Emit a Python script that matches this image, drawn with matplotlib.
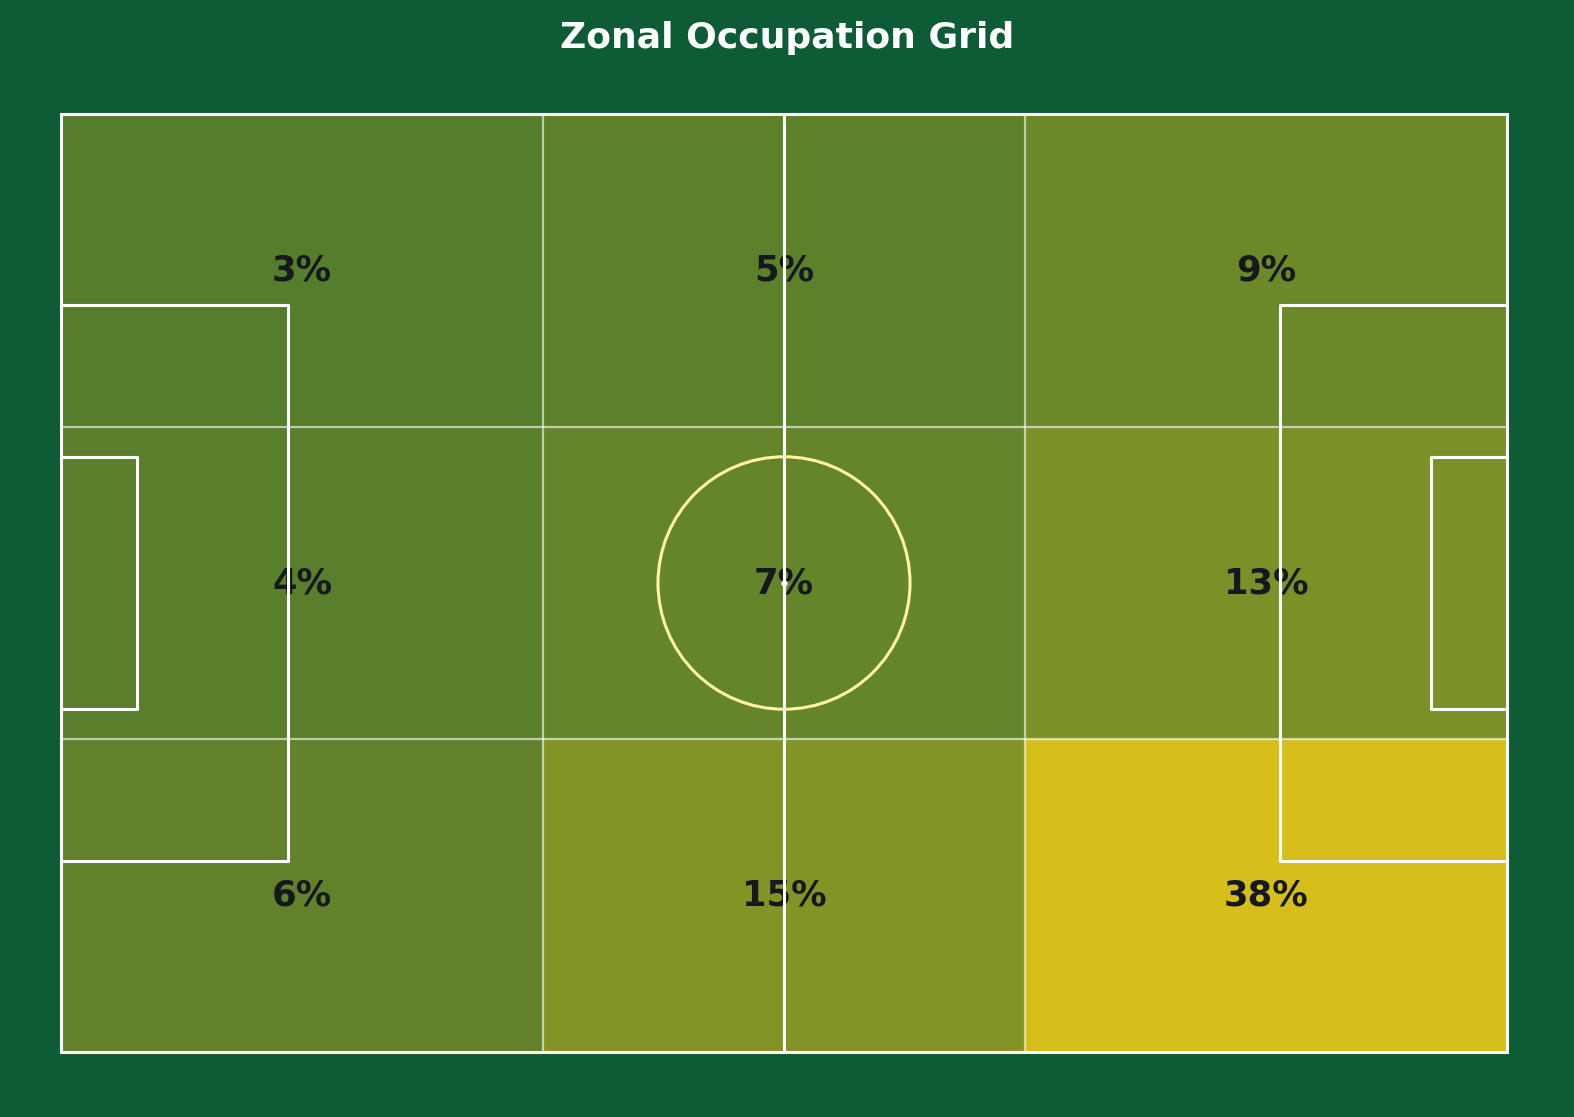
import numpy as np
import matplotlib.pyplot as plt
from matplotlib.colors import LinearSegmentedColormap
from matplotlib.patches import Rectangle, Circle

# zone shares in percent, row 0 = top of the picture
zone_top = [3, 5, 9]
zone_mid = [4, 7, 13]
zone_bot = [6, 15, 38]

pitch_len = 105
pitch_wid = 68

bg = "#0e5c36"
line_col = "white"

zones = np.array([zone_top, zone_mid, zone_bot])

fig = plt.figure(figsize=(15.74, 11.17), dpi=100, facecolor=bg)
ax = fig.add_axes([61 / 1574, 65 / 1117, 1446 / 1574, 938 / 1117])
ax.set_facecolor(bg)

cmap = LinearSegmentedColormap.from_list("occ", ["#567d2c", "#d6bf1a"])
x_edges = np.linspace(0, pitch_len, 4)
y_edges = np.linspace(0, pitch_wid, 4)
ax.pcolormesh(x_edges, y_edges, np.flipud(zones), cmap=cmap,
              vmin=zones.min(), vmax=zones.max(), zorder=1)

# zone labels
for i in range(3):
    for j in range(3):
        cx = (x_edges[j] + x_edges[j + 1]) / 2
        cy = (y_edges[2 - i] + y_edges[3 - i]) / 2
        ax.text(cx, cy, f"{zones[i, j]}%", ha="center", va="center",
                fontsize=25.5, fontweight="bold", color="#15191e", zorder=2)

# zone grid
for xg in x_edges[1:-1]:
    ax.plot([xg, xg], [0, pitch_wid], color="white", alpha=0.6, lw=1.6, zorder=3)
for yg in y_edges[1:-1]:
    ax.plot([0, pitch_len], [yg, yg], color="white", alpha=0.6, lw=1.6, zorder=3)

# pitch markings
lw = 2.2
ax.add_patch(Rectangle((0, 0), pitch_len, pitch_wid, fill=False, ec=line_col,
                       lw=lw, zorder=4, clip_on=False))
ax.plot([pitch_len / 2, pitch_len / 2], [0, pitch_wid], color=line_col, lw=lw, zorder=4)
ax.add_patch(Circle((pitch_len / 2, pitch_wid / 2), 9.15, fill=False,
                    ec="#fff3a6", lw=lw, zorder=4))
ax.plot(pitch_len / 2, pitch_wid / 2, "o", color=line_col, ms=3.5, zorder=4)

box_w, box_h = 16.5, 40.32
six_w, six_h = 5.5, 18.32
for x0, sgn in [(0, 1), (pitch_len, -1)]:
    ax.plot([x0, x0 + sgn * box_w, x0 + sgn * box_w, x0],
            [(pitch_wid - box_h) / 2, (pitch_wid - box_h) / 2,
             (pitch_wid + box_h) / 2, (pitch_wid + box_h) / 2],
            color=line_col, lw=lw, zorder=4)
    ax.plot([x0, x0 + sgn * six_w, x0 + sgn * six_w, x0],
            [(pitch_wid - six_h) / 2, (pitch_wid - six_h) / 2,
             (pitch_wid + six_h) / 2, (pitch_wid + six_h) / 2],
            color=line_col, lw=lw, zorder=4)

ax.set_xlim(0, pitch_len)
ax.set_ylim(0, pitch_wid)
ax.axis("off")

fig.text(0.5, 1 - 48 / 1117, "Zonal Occupation Grid", ha="center", va="baseline",
         fontsize=26, fontweight="bold", color="white")

fig.savefig("out.png", dpi=100, facecolor=bg)
